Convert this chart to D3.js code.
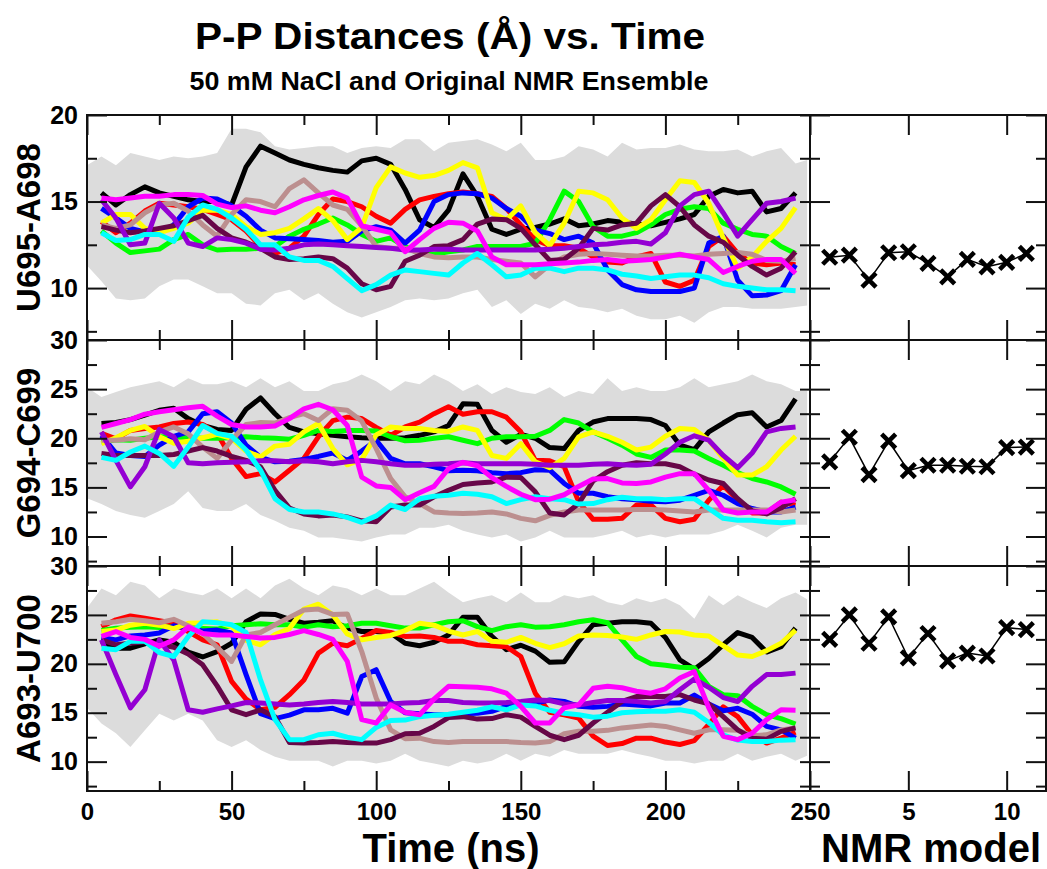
<!DOCTYPE html>
<html>
<head>
<meta charset="utf-8">
<script src="https://cdn.jsdelivr.net/npm/d3@7"></script>
<style>
  body { margin: 0; background: #fff; }
  svg { display: block; font-family: "Liberation Sans", Arial, Helvetica, sans-serif; font-weight: bold; }
</style>
</head>
<body>
<svg id="chart" width="1047" height="869"></svg>
<script>
// ---------- data

const title = 'P-P Distances (Å) vs. Time';
const subtitle = '50 mM NaCl and Original NMR Ensemble';
const xLabel = 'Time (ns)';
const modelLabel = 'NMR model';
const panelLabels = ['U695-A698', 'G694-C699', 'A693-U700'];

const timeTicks = [0, 50, 100, 150, 200, 250];
const timeMinor = [25, 75, 125, 175, 225];
const modelTicks = [5, 10];

// running averages, one value every 5 ns
const times = [5,10,15,20,25,30,35,40,45,50,55,60,65,70,75,80,85,90,95,100,105,110,115,120,125,130,135,140,145,150,155,160,165,170,175,180,185,190,195,200,205,210,215,220,225,230,235,240,245];

// raw-data cloud, upper and lower edge
const bandTimes = [0,5,10,15,20,25,30,35,40,45,50,55,60,65,70,75,80,85,90,95,100,105,110,115,120,125,130,135,140,145,150,155,160,165,170,175,180,185,190,195,200,205,210,215,220,225,230,235,240,245,249];

const seriesColors = ['#000000', '#ff0000', '#00ff00', '#0000ff', '#ffff00', '#bc8f8f', '#670748', '#9400d3', '#00ffff', '#ff00ff'];

// U695-A698
const uaBlack = [15.5,14.8,15.4,15.85,15.5,15.3,15.1,15.0,15.0,14.8,17.0,18.2,17.8,17.4,17.15,16.95,16.8,16.7,17.35,17.5,17.15,15.7,13.95,13.5,14.5,16.6,15.3,13.4,13.1,13.4,13.5,13.7,14.0,13.6,13.7,13.9,13.8,13.7,13.6,13.8,14.0,14.25,15.3,15.7,15.5,15.6,14.4,14.6,15.5];
const uaRed = [13.85,13.2,13.75,14.45,14.9,14.8,14.7,14.55,14.25,13.95,13.3,12.4,12.0,12.3,13.0,14.25,15.15,15.0,14.7,14.15,13.75,14.55,15.1,15.3,15.45,15.55,15.45,15.3,14.6,13.65,12.8,12.45,12.45,12.3,11.8,11.5,11.45,11.8,12.0,10.35,10.1,10.45,12.4,13.0,12.0,11.45,11.35,11.45,11.35];
const uaGreen = [13.3,12.6,12.05,12.15,12.25,12.8,13.1,12.5,12.2,12.25,12.25,12.3,12.4,13.0,13.4,13.7,14.05,13.65,13.1,12.7,12.9,12.4,12.0,11.95,12.1,12.2,12.4,12.4,12.4,12.4,12.6,13.95,15.6,15.0,13.55,13.0,13.0,13.2,13.65,14.25,14.55,14.7,14.6,13.75,13.4,13.1,13.0,12.4,12.0];
const uaBlue = [14.6,14.05,13.45,13.25,13.2,13.65,14.7,15.2,15.15,14.75,14.15,13.35,12.9,12.85,12.8,12.75,12.65,12.7,13.3,13.55,13.35,12.6,13.35,15.0,15.4,15.5,15.45,15.2,14.6,14.15,13.35,13.15,12.8,13.0,12.6,11.05,10.2,9.9,9.8,9.8,9.8,10.0,12.6,13.0,10.45,9.55,9.6,9.85,11.35];
const uaYellow = [13.75,14.25,14.25,13.45,13.2,13.45,13.75,14.5,14.5,14.25,13.55,13.1,13.2,13.45,14.0,14.6,13.9,12.8,13.5,15.8,17.0,16.65,16.4,16.5,16.8,17.25,16.95,14.35,13.95,14.75,13.2,12.45,13.75,15.6,15.5,15.1,14.05,13.45,13.95,15.1,16.2,16.1,14.9,12.9,11.15,11.8,12.7,13.45,14.65];
const uaBrown = [13.65,13.45,13.65,14.35,14.8,14.9,14.45,13.65,13.0,14.25,15.1,15.0,14.7,15.75,16.25,15.5,14.8,14.55,13.6,12.4,12.3,12.3,12.0,11.8,11.75,11.8,11.8,11.65,11.55,11.45,10.65,11.35,11.8,11.95,12.0,11.95,11.9,11.85,11.85,11.9,11.9,11.85,11.95,12.0,12.05,11.95,11.6,11.55,11.7];
const uaMaroon = [13.55,13.35,13.2,13.3,13.45,13.6,13.9,14.2,13.45,12.9,12.65,12.3,11.8,11.65,11.7,11.8,11.7,11.15,10.25,9.9,10.1,11.55,11.9,12.4,12.45,12.8,13.7,13.99,13.95,13.45,12.5,11.6,11.65,12.3,13.45,13.35,13.65,13.75,14.75,15.4,14.7,13.65,13.0,12.65,11.9,11.25,10.75,11.15,12.1];
const uaViolet = [15.1,14.05,12.5,12.6,14.9,14.05,12.6,12.4,12.9,12.8,12.6,12.25,12.2,12.3,12.5,12.55,12.5,12.45,12.4,12.35,12.3,12.2,12.2,12.25,12.25,12.2,12.2,12.2,12.2,12.2,12.2,12.25,12.3,12.4,12.5,12.55,12.65,12.7,12.55,13.2,14.75,15.4,15.6,14.35,13.0,13.95,14.9,15.0,15.2];
const uaCyan = [13.2,12.75,12.8,13.1,13.1,12.7,14.1,14.8,14.55,14.05,13.4,12.5,12.5,11.8,11.6,11.6,11.25,10.55,9.85,10.2,10.75,11.05,10.95,10.85,10.75,11.45,12.0,11.35,10.65,10.75,11.15,11.15,10.95,11.15,11.15,11.05,10.8,10.7,10.55,10.65,10.75,10.75,10.6,10.25,10.1,10.0,9.9,9.9,9.85];
const uaMagenta = [15.2,15.1,15.2,15.3,15.3,15.4,15.4,15.35,14.85,14.65,14.75,14.5,14.35,14.7,15.1,15.35,15.55,15.2,13.6,13.4,13.2,12.1,12.8,13.45,13.8,13.75,13.3,11.8,11.35,11.35,11.35,11.4,11.45,11.5,11.6,11.65,11.55,11.6,11.65,11.8,11.95,11.8,11.65,10.9,11.25,11.55,11.65,11.65,10.85];
const uaBandHigh = [17.1,17.6,17.1,17.8,17.6,17.4,17.6,17.5,17.6,17.8,19.2,19.2,19.0,18.2,18.0,18.1,18.2,18.2,17.8,18.1,18.2,18.1,18.6,18.6,17.9,18.4,18.5,18.6,18.3,17.9,18.4,17.4,17.4,17.6,18.2,18.0,17.6,18.4,18.0,18.1,18.1,18.3,18.0,17.9,17.9,18.0,17.6,17.9,18.1,17.2,17.4];
const uaBandLow = [11.3,10.4,9.4,9.3,9.4,10.1,10.5,10.5,10.1,9.7,9.7,9.1,9.0,9.7,9.9,9.3,9.7,9.1,8.6,8.3,8.6,8.9,9.3,9.4,9.3,9.4,9.7,9.9,8.9,9.3,8.5,9.1,8.8,9.3,8.9,8.8,8.6,8.8,8.4,8.2,8.2,8.4,8.0,8.6,8.9,8.9,8.8,8.8,8.8,8.9,9.0];

// G694-C699
const gcBlack = [21.5,21.6,21.9,22.35,22.85,23.05,22.0,21.3,20.9,20.8,22.95,24.1,22.5,21.1,20.65,20.45,20.3,20.15,20.05,20.0,20.0,20.05,20.3,20.65,21.3,23.5,23.45,20.8,19.6,20.4,20.0,19.05,18.95,20.8,21.65,22.0,22.0,22.0,21.9,21.3,19.3,18.85,20.65,21.55,22.4,22.6,21.15,21.8,24.0];
const gcRed = [20.5,19.95,20.8,21.0,21.15,21.5,21.65,21.4,20.5,17.95,16.1,16.4,15.55,16.75,17.95,20.15,21.8,22.15,22.0,21.1,20.3,21.15,21.65,22.5,23.2,22.45,22.7,22.7,22.15,20.65,17.75,17.7,17.1,13.55,11.75,11.75,11.85,13.2,13.2,11.85,11.5,11.75,13.7,15.2,13.7,12.4,12.4,13.5,13.2];
const gcGreen = [19.6,19.85,19.8,20.0,20.15,20.15,20.05,20.0,20.0,20.05,20.15,20.05,20.0,19.9,20.3,20.8,20.7,20.8,20.8,20.75,20.15,19.75,19.8,20.0,20.15,19.8,19.45,20.0,20.15,20.15,20.2,20.8,21.9,21.55,20.65,20.0,19.3,18.4,18.05,18.8,18.8,18.7,17.95,17.25,16.5,15.9,15.55,15.05,14.3];
const gcBlue = [20.3,18.5,18.25,18.15,19.3,20.2,20.65,22.5,22.7,21.55,19.3,18.05,17.6,17.65,17.85,18.15,18.5,17.75,18.7,19.8,17.95,17.4,17.4,17.1,16.7,16.75,16.7,16.5,16.4,16.5,16.8,16.75,15.4,14.4,14.4,14.05,13.85,13.75,13.6,13.55,13.7,14.2,14.7,14.2,13.35,12.85,12.5,12.5,13.0];
const gcYellow = [19.45,20.05,20.8,21.2,20.15,19.5,19.7,20.05,20.4,20.0,18.7,18.1,19.2,19.4,20.65,21.5,18.95,17.3,17.85,20.35,21.15,21.0,21.0,20.8,20.7,21.15,20.8,18.25,17.95,19.45,17.6,17.0,17.95,20.15,20.65,20.2,19.6,18.8,19.1,20.2,21.0,20.9,19.8,17.95,16.25,16.25,17.1,18.8,20.2];
const gcBrown = [19.8,19.8,19.95,19.85,20.65,21.15,20.45,19.1,17.95,19.8,21.4,21.6,21.55,22.1,22.5,21.8,23.0,22.85,21.75,18.95,15.9,14.05,13.35,12.5,12.4,12.35,12.4,12.5,12.3,11.85,11.6,12.15,12.5,12.7,12.7,12.7,12.7,12.75,12.75,12.7,12.6,12.5,12.7,12.7,12.7,12.7,12.7,12.5,12.7];
const gcMaroon = [18.45,18.25,18.25,18.25,18.25,18.35,18.7,19.05,18.7,18.15,17.75,17.1,14.7,12.9,12.3,12.1,12.2,12.0,11.6,11.5,13.0,13.2,13.2,14.05,14.7,15.3,15.45,15.55,16.05,16.0,14.55,12.4,12.2,13.35,15.65,16.6,17.25,17.5,17.4,17.4,17.1,16.35,15.75,15.4,13.85,12.6,12.3,12.9,13.85];
const gcViolet = [20.65,17.75,15.05,17.1,20.9,20.15,17.5,17.4,17.5,17.55,17.6,17.7,17.7,17.6,17.7,17.6,17.4,17.6,17.75,17.6,17.4,17.25,17.25,17.35,17.4,17.5,17.4,17.4,17.4,17.4,17.35,17.25,17.25,17.25,17.35,17.4,17.3,17.25,17.35,18.4,19.6,20.25,19.8,18.25,17.0,18.5,20.65,21.0,21.15];
const gcCyan = [18.05,17.75,18.6,19.2,18.45,17.15,19.1,21.3,20.5,20.2,18.8,16.75,13.85,12.75,12.5,12.5,12.3,11.95,11.45,12.1,13.2,12.75,13.85,14.1,14.2,14.4,14.3,14.05,13.35,13.75,14.05,13.85,13.75,13.3,13.35,13.75,14.0,13.85,13.85,13.75,13.85,13.85,12.85,11.85,11.65,11.65,11.5,11.4,11.5];
const gcMagenta = [21.1,21.5,21.9,22.45,22.7,22.9,23.1,23.25,22.25,21.4,21.15,21.15,21.25,22.0,23.0,23.45,22.9,21.3,16.05,15.15,15.0,13.75,14.45,15.1,16.9,17.55,17.2,16.0,15.1,14.3,13.75,13.8,14.25,15.1,15.85,15.9,15.45,15.4,15.55,16.05,16.4,16.4,14.7,12.7,12.4,12.5,12.5,13.5,13.75];
const gcBandHigh = [25.2,24.2,24.7,25.2,25.5,25.8,25.2,26.1,25.5,25.5,25.8,25.2,26.1,25.2,25.8,24.8,24.8,25.5,25.8,26.5,25.8,24.8,25.8,25.5,26.5,25.8,24.8,25.5,24.5,25.2,24.7,24.5,25.2,24.2,24.8,24.5,26.1,24.8,25.2,24.8,24.8,25.2,26.1,25.2,25.5,25.8,26.5,25.8,25.5,24.8,24.8];
const gcBandLow = [13.9,13.3,12.6,12.2,11.9,12.6,13.3,14.6,12.9,12.6,12.6,13.3,12.2,11.6,10.9,10.6,9.9,9.9,9.7,9.5,9.9,10.2,10.2,10.9,10.9,11.2,10.6,10.2,9.9,10.2,9.5,9.9,10.6,9.9,9.9,9.9,10.2,10.6,9.9,10.2,9.9,10.2,10.2,10.2,10.6,11.2,10.6,9.9,10.9,11.2,11.2];

// A693-U700
const auBlack = [22.3,21.6,21.6,22.05,22.45,22.2,21.2,20.7,21.25,22.1,24.3,25.1,25.05,24.55,24.15,24.25,24.4,23.65,23.3,23.3,23.15,22.1,21.85,22.2,22.95,24.75,24.75,22.8,21.45,21.9,21.3,20.15,20.2,22.3,24.0,24.15,24.3,24.3,24.15,22.7,20.4,19.45,20.55,21.95,23.2,22.7,21.2,21.75,23.65];
const auRed = [23.8,24.5,24.9,24.65,24.4,24.15,23.3,22.45,21.95,18.2,16.4,15.3,15.55,16.85,18.35,21.1,22.1,21.85,22.6,23.4,23.2,22.8,22.85,22.7,22.3,22.3,21.95,21.85,21.75,20.75,17.0,15.05,14.8,14.45,12.6,11.65,11.85,12.4,12.4,12.0,11.75,12.15,13.8,15.6,14.6,12.75,11.9,12.4,13.0];
const auGreen = [23.4,23.65,23.75,23.8,23.7,23.8,23.8,23.6,23.55,23.9,24.0,24.1,24.0,24.0,23.75,24.0,23.8,23.9,24.15,24.15,23.9,23.65,23.65,24.0,24.3,24.4,23.8,23.4,23.8,24.0,23.75,23.8,24.0,24.3,24.5,24.2,22.45,20.75,20.0,19.85,19.65,19.6,17.7,16.85,16.75,15.65,14.8,14.4,13.85];
const auBlue = [22.7,22.45,22.85,22.95,23.15,23.9,23.6,23.35,23.45,23.15,18.9,14.9,14.4,14.75,15.3,15.3,15.45,14.95,18.7,19.4,16.15,15.0,14.9,14.8,14.8,14.9,14.95,15.15,15.65,16.0,16.0,16.3,16.15,15.65,15.55,15.65,15.9,15.8,15.7,16.0,16.0,16.8,15.9,15.2,15.45,14.85,13.6,13.25,12.4];
const auYellow = [23.3,23.45,23.95,24.15,23.95,23.6,24.15,24.2,24.3,23.8,22.4,21.95,23.0,23.6,25.6,26.1,25.0,23.05,22.45,22.7,22.9,23.4,24.15,23.95,23.35,22.95,23.3,22.3,22.2,22.7,22.1,21.65,22.05,22.85,22.95,22.9,22.75,22.5,22.95,23.3,23.25,22.95,22.85,21.85,20.9,20.75,21.35,22.1,23.45];
const auBrown = [24.15,24.3,24.55,24.4,24.2,24.55,23.9,23.1,21.7,20.25,22.95,23.2,24.0,24.75,25.5,25.6,25.05,25.1,21.25,16.5,13.25,12.35,12.4,12.05,11.95,12.05,12.05,12.05,12.05,11.95,11.9,12.05,12.85,13.1,13.1,13.2,13.45,13.6,13.75,13.6,13.25,12.9,13.25,13.25,13.2,12.65,12.75,13.25,13.45];
const auMaroon = [22.45,21.95,22.1,22.25,22.0,21.7,21.0,19.9,17.75,15.3,14.8,15.3,14.6,11.95,11.9,11.95,12.05,11.95,11.9,11.9,12.25,12.85,12.9,13.6,14.5,14.6,14.35,14.4,14.8,14.55,13.6,12.7,12.25,12.7,13.95,15.05,16.15,16.65,16.65,16.65,16.85,16.3,15.9,14.6,13.25,12.4,12.3,13.1,13.45];
const auViolet = [22.45,18.9,15.5,17.35,22.45,20.4,15.3,15.05,15.4,15.7,16.05,16.0,15.9,15.8,15.9,16.05,16.15,16.05,15.9,15.9,15.9,16.0,16.05,16.25,16.25,16.05,16.0,16.0,16.05,16.15,16.3,16.25,15.9,15.8,16.05,16.25,16.25,16.15,16.0,16.15,17.35,18.45,17.6,16.55,16.15,17.7,18.9,18.9,19.05];
const auCyan = [21.6,21.45,22.3,22.3,21.15,20.75,22.8,24.3,24.2,24.0,23.2,18.35,14.3,12.25,12.25,12.75,12.9,12.5,12.25,13.5,14.2,14.25,14.6,14.75,14.85,15.05,15.25,15.6,15.3,15.8,15.7,15.25,14.95,14.8,14.55,14.65,15.0,15.1,15.15,15.15,15.3,15.05,14.0,12.75,12.2,12.05,12.05,12.2,12.25];
const auMagenta = [22.8,23.3,22.7,22.5,21.8,22.45,23.75,23.1,22.95,22.95,22.8,22.65,22.7,23.0,23.4,23.0,22.5,20.25,14.3,13.95,15.8,15.05,14.8,16.4,17.7,17.65,17.6,17.45,17.0,15.65,13.95,13.95,15.5,15.8,17.5,17.7,17.55,17.2,17.0,17.45,18.55,19.2,15.5,12.6,12.25,12.9,14.3,15.3,15.25];
const auBandHigh = [25.7,27.7,27.0,28.4,28.0,26.7,27.7,27.3,27.0,27.7,26.7,27.7,26.7,28.0,28.7,27.7,27.0,28.0,27.7,27.0,27.7,27.0,27.0,27.7,28.4,27.3,26.3,26.7,27.0,26.3,27.3,26.3,26.3,27.0,26.7,27.0,26.3,26.0,26.7,26.3,26.7,26.0,24.6,27.0,26.0,27.0,26.3,25.7,26.7,27.3,26.6];
const auBandLow = [15.5,13.9,12.9,11.5,13.2,14.9,14.2,14.9,14.2,12.2,11.5,12.2,11.2,10.5,10.1,10.1,10.1,9.5,10.1,10.1,9.8,10.1,10.8,10.1,9.8,9.5,10.1,9.8,10.1,10.8,10.1,10.8,10.5,11.2,10.8,10.8,10.8,11.2,10.8,10.5,10.1,10.1,9.8,10.1,10.1,10.8,10.1,10.5,10.8,10.1,10.6];

// NMR ensemble, one distance per model
const nmrModels = [1,2,3,4,5,6,7,8,9,10,11];
const uaNmr = [11.78,11.9,10.46,12.04,12.1,11.43,10.65,11.66,11.23,11.49,12.0];
const gcNmr = [17.6,20.1,16.3,19.7,16.7,17.25,17.25,17.15,17.1,19.05,19.1];
const auNmr = [22.5,25.0,22.1,24.8,20.6,23.1,20.3,21.1,20.8,23.7,23.5];

// ---------- layout

const svg = d3.select('#chart');
const left = 87, split = 810, right = 1046;

const panels = [
  {label: panelLabels[0], top: 115, bottom: 340, domain: [7, 20],
   major: [10, 15, 20], minor: [7.5, 12.5, 17.5],
   low: uaBandLow, high: uaBandHigh, nmr: uaNmr,
   series: [uaBlack, uaRed, uaGreen, uaBlue, uaYellow, uaBrown, uaMaroon, uaViolet, uaCyan, uaMagenta]},
  {label: panelLabels[1], top: 340, bottom: 566, domain: [7, 30],
   major: [10, 15, 20, 25, 30], minor: [7.5, 12.5, 17.5, 22.5, 27.5],
   low: gcBandLow, high: gcBandHigh, nmr: gcNmr,
   series: [gcBlack, gcRed, gcGreen, gcBlue, gcYellow, gcBrown, gcMaroon, gcViolet, gcCyan, gcMagenta]},
  {label: panelLabels[2], top: 566, bottom: 791, domain: [7, 30],
   major: [10, 15, 20, 25, 30], minor: [7.5, 12.5, 17.5, 22.5, 27.5],
   low: auBandLow, high: auBandHigh, nmr: auNmr,
   series: [auBlack, auRed, auGreen, auBlue, auYellow, auBrown, auMaroon, auViolet, auCyan, auMagenta]}
];

const xTime = d3.scaleLinear().domain([0, 250]).range([left, split]);
const xModel = d3.scaleLinear().domain([0, 12]).range([split, right]);

// tick helper: axis without domain line, bold labels
function ticks(axis, x, y, size = 25) {
  const g = svg.append('g')
    .attr('transform', `translate(${x}, ${y})`)
    .call(axis);
  g.attr('font-family', null).attr('font-size', size);
  g.select('.domain').remove();
  g.selectAll('line').attr('stroke', '#111').attr('stroke-width', 2);
  g.selectAll('text').attr('fill', '#000');
  return g;
}

const noLabel = () => '';

panels.forEach((p, i) => {
  const y = d3.scaleLinear().domain(p.domain).range([p.bottom, p.top]);

  svg.append('clipPath').attr('id', 'clip' + i)
    .append('rect')
    .attr('x', left).attr('y', p.top)
    .attr('width', split - left).attr('height', p.bottom - p.top);

  const plot = svg.append('g').attr('clip-path', `url(#clip${i})`);

  // grey cloud of raw data
  const band = d3.area()
    .x((t, j) => xTime(t))
    .y0((t, j) => y(p.low[j]))
    .y1((t, j) => y(p.high[j]));

  plot.append('path')
    .datum(bandTimes)
    .attr('fill', '#dcdcdc')
    .attr('d', band);

  // running averages
  const line = d3.line()
    .x((v, j) => xTime(times[j]))
    .y(v => y(v));

  p.series.forEach((values, k) => {
    plot.append('path')
      .datum(values)
      .attr('fill', 'none')
      .attr('stroke', seriesColors[k])
      .attr('stroke-width', 5)
      .attr('stroke-linejoin', 'round')
      .attr('d', line);
  });

  // NMR models
  const nmrLine = d3.line()
    .x((v, j) => xModel(nmrModels[j]))
    .y(v => y(v));

  svg.append('path')
    .datum(p.nmr)
    .attr('fill', 'none')
    .attr('stroke', '#000')
    .attr('stroke-width', 1.5)
    .attr('d', nmrLine);

  svg.append('g')
    .selectAll('path')
    .data(p.nmr)
    .join('path')
    .attr('transform', (v, j) => `translate(${xModel(nmrModels[j])}, ${y(v)})`)
    .attr('d', 'M-7,-7L7,7M-7,7L7,-7')
    .attr('stroke', '#000')
    .attr('stroke-width', 4.5);

  // y ticks
  ticks(d3.axisLeft(y).tickValues(p.major).tickSize(-20).tickPadding(9).tickFormat(d3.format('d')), left, 0);
  ticks(d3.axisLeft(y).tickValues(p.minor).tickSize(-10).tickFormat(noLabel), left, 0);
  ticks(d3.axisRight(y).tickValues(p.major.concat(p.minor)).tickSize(-10).tickFormat(noLabel), split, 0);
  ticks(d3.axisLeft(y).tickValues(p.major).tickSize(-20).tickFormat(noLabel), split, 0);
  ticks(d3.axisLeft(y).tickValues(p.minor).tickSize(-10).tickFormat(noLabel), split, 0);
  ticks(d3.axisRight(y).tickValues(p.major).tickSize(-20).tickFormat(noLabel), right, 0);
  ticks(d3.axisRight(y).tickValues(p.minor).tickSize(-10).tickFormat(noLabel), right, 0);

  // x ticks, top and bottom of each panel
  ticks(d3.axisTop(xTime).tickValues(timeTicks).tickSize(-20).tickFormat(noLabel), 0, p.top);
  ticks(d3.axisTop(xTime).tickValues(timeMinor).tickSize(-10).tickFormat(noLabel), 0, p.top);
  ticks(d3.axisTop(xModel).tickValues(modelTicks).tickSize(-20).tickFormat(noLabel), 0, p.top);

  const last = i === panels.length - 1;
  ticks(d3.axisBottom(xTime).tickValues(timeTicks).tickSize(-20).tickPadding(12)
    .tickFormat(last ? d3.format('d') : noLabel), 0, p.bottom, 24);
  ticks(d3.axisBottom(xTime).tickValues(timeMinor).tickSize(-10).tickFormat(noLabel), 0, p.bottom);
  ticks(d3.axisBottom(xModel).tickValues(modelTicks).tickSize(-20).tickPadding(12)
    .tickFormat(last ? d3.format('d') : noLabel), 0, p.bottom, 24);

  // frames
  svg.append('rect')
    .attr('x', left).attr('y', p.top)
    .attr('width', split - left).attr('height', p.bottom - p.top)
    .attr('fill', 'none').attr('stroke', '#111').attr('stroke-width', 2);
  svg.append('rect')
    .attr('x', split).attr('y', p.top)
    .attr('width', right - split).attr('height', p.bottom - p.top)
    .attr('fill', 'none').attr('stroke', '#111').attr('stroke-width', 2);

  // panel label
  svg.append('text')
    .attr('transform', `translate(40, ${(p.top + p.bottom) / 2}) rotate(-90)`)
    .attr('text-anchor', 'middle')
    .attr('font-size', 33)
    .text(p.label);
});

// ---------- titles

svg.append('text')
  .attr('x', 450).attr('y', 49)
  .attr('text-anchor', 'middle')
  .attr('font-size', 37)
  .attr('textLength', 510)
  .attr('lengthAdjust', 'spacingAndGlyphs')
  .text(title);

svg.append('text')
  .attr('x', 449).attr('y', 90)
  .attr('text-anchor', 'middle')
  .attr('font-size', 25)
  .attr('textLength', 519)
  .attr('lengthAdjust', 'spacingAndGlyphs')
  .text(subtitle);

svg.append('text')
  .attr('x', 451).attr('y', 862)
  .attr('text-anchor', 'middle')
  .attr('font-size', 40)
  .text(xLabel);

svg.append('text')
  .attr('x', 931).attr('y', 862)
  .attr('text-anchor', 'middle')
  .attr('font-size', 40)
  .text(modelLabel);
</script>
</body>
</html>
